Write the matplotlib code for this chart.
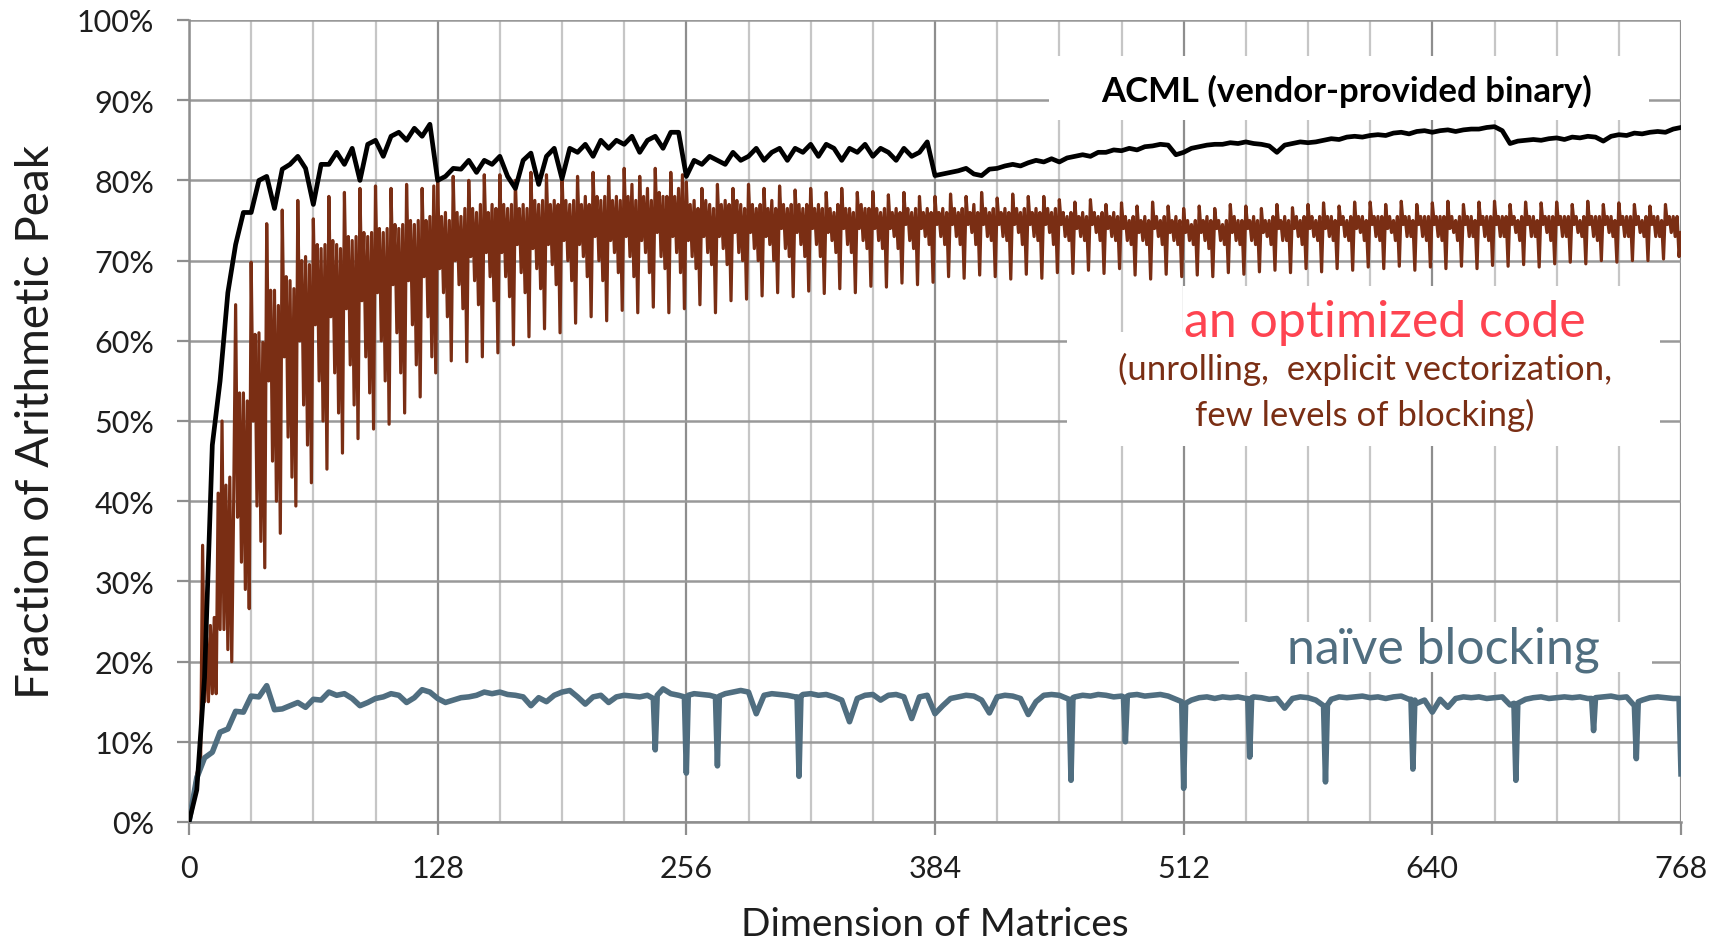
import numpy as np
import matplotlib.pyplot as plt
from matplotlib.patches import Rectangle

plt.rcParams['font.family'] = ['Lato', 'DejaVu Sans']

# ACML (vendor binary), % of peak, n = 0, 4, 8, ..., 768
acml = [
    0, 4, 18, 47, 55, 66, 72, 76,
    76, 80, 80.5, 76.5, 81.4, 82, 83, 81.5,
    77, 82, 82, 83.5, 82, 84, 80, 84.5,
    85, 83, 85.5, 86, 85, 86.5, 85.5, 87,
    80, 80.5, 81.5, 81.4, 82.5, 81, 82.5, 82,
    83, 80.5, 79, 82.5, 83.4, 79.5, 83, 84,
    80.2, 84, 83.5, 84.5, 83, 85, 84, 85,
    84.5, 85.5, 83.5, 85, 85.5, 84, 86, 86,
    80.5, 82.5, 82, 83, 82.5, 82, 83.5, 82.5,
    83, 84, 82.5, 83.5, 84, 82.5, 84, 83.5,
    84.5, 83, 84.5, 84, 82.5, 84, 83.5, 84.5,
    83, 84, 83.5, 82.5, 84, 83, 83.5, 84.8,
    80.6, 80.8, 81, 81.2, 81.5, 80.8, 80.6, 81.4,
    81.5, 81.8, 82, 81.8, 82.2, 82.5, 82.3, 82.7,
    82.3, 82.8, 83, 83.2, 83, 83.5, 83.5, 83.8,
    83.7, 84, 83.8, 84.2, 84.3, 84.5, 84.4, 83.2,
    83.5, 84, 84.2, 84.4, 84.5, 84.5, 84.7, 84.6,
    84.8, 84.6, 84.5, 84.3, 83.5, 84.4, 84.6, 84.8,
    84.7, 84.8, 85, 85.2, 85.1, 85.4, 85.5, 85.4,
    85.6, 85.7, 85.6, 85.9, 86, 85.8, 86.1, 86.2,
    86, 86.2, 86.3, 86.1, 86.3, 86.4, 86.4, 86.6,
    86.7, 86.2, 84.6, 84.9, 85, 85.1, 85, 85.2,
    85.3, 85.1, 85.4, 85.3, 85.5, 85.4, 84.9, 85.5,
    85.7, 85.6, 85.9, 85.8, 86, 86.1, 86, 86.4,
    86.6,
]

# optimized code, % of peak, n = 0, 1, 2, ..., 768 (one row = 32 sizes)
optimized = [
    0, 1.5, 3, 4.5, 6, 7, 8, 34.5, 15, 23, 15, 24.5, 16, 25.5, 16, 41,
    24, 50, 24, 42, 21.5, 43, 20, 40, 64.5, 38, 53.5, 32.4, 53.5, 29, 52.5, 26.6,
    69.8, 50, 60.8, 39.4, 61, 35, 59.8, 31.7, 74.6, 55, 66.3, 45, 66.3, 40, 64.4, 36,
    76.3, 58, 68, 48, 67.5, 43, 66.5, 39.4, 77.5, 60, 70, 52, 70.5, 47, 69.5, 42.3,
    75.2, 62, 72, 55, 71.5, 50, 72, 44, 78, 63, 72.5, 56, 72, 51, 71.5, 46,
    78.5, 64, 73, 57, 72.5, 52, 73, 47.8, 79, 65, 73.5, 58, 73, 53.5, 73.5, 49,
    79.3, 66, 74, 60, 73.5, 55, 74, 49.6, 79, 67, 74.5, 61, 74, 56, 74.5, 51,
    79.5, 67.5, 75, 62, 74.5, 57, 75, 53, 79, 68, 75, 63, 75.5, 58, 79.3, 56,
    80.2, 69, 75.5, 66, 76, 63, 75, 57.5, 80.5, 70, 76, 67, 75.5, 64, 76.5, 57.4,
    80, 70.5, 76.5, 67.5, 76, 64.5, 77, 58, 80.7, 71, 76, 68, 77, 65, 76.5, 58.5,
    80.7, 71, 77, 68, 76.5, 65.5, 77, 59.5, 80, 72, 76.5, 68.5, 77, 66, 76.5, 60.5,
    81, 71.5, 77.5, 69, 77, 66.5, 77.5, 61.5, 80.7, 72, 77, 69.5, 77.5, 67, 77, 61,
    81, 72.5, 77.5, 70, 77, 67.5, 77.5, 62.2, 80.5, 72, 77, 70.5, 78, 68, 77, 63,
    81, 73, 78, 70, 77.5, 67.5, 78, 62.5, 80.5, 72.5, 77.5, 71, 78, 68.5, 77.5, 63.8,
    81.5, 73, 78, 70.5, 79.5, 68, 77.5, 63.5, 80.5, 72.5, 78, 71, 79, 68.5, 77.5, 64.2,
    81.5, 73.5, 78.5, 70.5, 78, 69, 78, 63.5, 81, 73, 78, 71, 79, 68.5, 80.7, 64,
    79.8, 72.5, 77, 70.5, 77.5, 69, 76.5, 64.5, 79, 73, 77.5, 71, 77, 69.5, 76.5, 63.5,
    79.5, 73, 77, 71.5, 77.5, 69.5, 77, 65, 79, 73.5, 77.5, 71, 77, 70, 76.5, 65.2,
    79.5, 73.5, 77, 71.5, 76.5, 70, 77, 65.6, 79, 73, 76.5, 72, 77.5, 70, 76.5, 66,
    79.3, 74, 77, 71.5, 76.5, 70.5, 77, 65.5, 78.8, 73.5, 77, 72, 76.5, 70.5, 77, 66.2,
    79, 74, 76.5, 72, 77, 70.5, 76.5, 65.9, 78.5, 73.5, 76.5, 72.5, 76, 71, 77, 66.5,
    79, 74, 76.5, 72, 76.5, 71, 76, 66, 78.5, 74, 77, 72.5, 76.5, 71.5, 76.5, 66.8,
    78.6, 74, 76.5, 72.5, 76, 71.5, 76.5, 66.7, 78.2, 74, 76, 73, 76.5, 71.5, 76, 67.2,
    78.5, 74.5, 76.5, 72.5, 76, 71.5, 76.5, 67, 78, 74, 76, 73, 76.5, 72, 76, 67.3,
    78, 74.5, 76, 73, 76.5, 72, 76, 68, 78.3, 74.5, 76.5, 73, 76, 72, 76.5, 67.8,
    78, 74.5, 76, 73.5, 77, 72, 76, 68.2, 78.5, 74.5, 76.5, 73, 76, 72.5, 76.5, 68,
    77.8, 74.5, 76, 73, 76.5, 72.5, 76, 67.7, 78.3, 74.5, 76.5, 73.5, 76, 72, 76.5, 68.3,
    78, 74.5, 76, 73, 76.5, 72.5, 76, 67.8, 78, 74.5, 76.5, 73.5, 76, 72, 76.5, 68.5,
    77.6, 74.5, 76, 73, 75.5, 72.5, 76, 68.4, 77.3, 74, 75.5, 73, 76, 72.5, 75.5, 68.8,
    77.6, 74.5, 76, 73.5, 75.5, 72.5, 76, 68.4, 77, 74, 75.5, 73, 76, 72.5, 75.5, 69,
    77.2, 74, 75.5, 72.5, 75, 72, 75.5, 68.2, 76.8, 73.5, 75, 72.5, 75.5, 72, 75, 67.7,
    77.3, 74, 75.5, 73, 75, 72, 75.5, 68.3, 76.8, 73.5, 75, 72.5, 75.5, 72, 75, 68,
    76.5, 73.5, 75, 72.5, 74.5, 72, 75, 68.2, 76.8, 73.5, 75, 72.5, 75.5, 71.5, 75, 68,
    76.5, 74, 75, 72.5, 74.5, 72, 75, 68.5, 77, 73.5, 75.5, 72.5, 75, 72, 75, 68.3,
    76.8, 74, 75, 72.5, 75.5, 72, 75, 68.6, 76.5, 73.5, 75, 73, 75, 72, 75.5, 68.8,
    77, 74, 75, 72.5, 75.5, 72.5, 75, 68.5, 76.6, 74, 75.5, 73, 75, 72, 75.5, 69,
    77, 74, 75.5, 73, 75, 72.5, 75.5, 68.6, 77.2, 74, 75.5, 73, 75.5, 72.5, 75, 69,
    76.8, 74.5, 75.5, 73, 75, 72.5, 75.5, 68.8, 77.3, 74, 75.5, 73.5, 75.5, 72.5, 75, 69.2,
    77.3, 74.5, 75.5, 73, 75.5, 72.5, 75.5, 69, 77, 74, 75.5, 73.5, 75, 72.5, 75.5, 69.3,
    77.4, 74.5, 75.5, 73, 75.5, 73, 75, 68.8, 77, 74.5, 75.5, 73, 75.5, 72.5, 75.5, 69.2,
    77.2, 74.5, 75.5, 73, 75.5, 72.5, 75.5, 69, 77.4, 74, 75.5, 73.5, 75, 72.5, 75.5, 69.3,
    77, 74.5, 75.5, 73, 75.5, 73, 75, 69, 77.3, 74.5, 75.5, 73, 75.5, 72.5, 75.5, 69.4,
    77.4, 74.5, 75.5, 73, 75.5, 73, 75.5, 69.3, 77, 74.5, 75.5, 73.5, 75, 72.5, 75.5, 69.5,
    77.3, 74.5, 75.5, 73, 75.5, 73, 75, 69.2, 77.2, 74.5, 75.5, 73.5, 75.5, 72.5, 75.5, 69.6,
    77.3, 74.5, 75.5, 73, 75.5, 73, 75.5, 69.8, 77, 74.5, 75.5, 73.5, 75, 73, 75.5, 69.6,
    77.4, 74.5, 75.5, 73, 75.5, 72.5, 75.5, 70, 77, 74.5, 75.5, 73.5, 75.5, 73, 75, 69.8,
    77.2, 74.5, 75.5, 73, 75.5, 73, 75.5, 70, 77, 74.5, 75.5, 73.5, 75, 73, 75.5, 70,
    76.8, 74.5, 75.5, 73, 75.5, 73, 75, 70.2, 77, 74.5, 75.5, 73.5, 75.5, 73, 75.5, 70.5,
    73.5,
]

# naive blocking, % of peak, n = 0, 4, 8, ..., 768
naive = [
    0, 5.5, 8, 8.7, 11.2, 11.6, 13.8, 13.7,
    15.7, 15.6, 17, 14, 14.1, 14.5, 14.9, 14.3,
    15.3, 15.2, 16.2, 15.8, 16, 15.4, 14.5, 14.9,
    15.4, 15.6, 16, 15.8, 14.9, 15.5, 16.5, 16.2,
    15.4, 14.9, 15.2, 15.5, 15.6, 15.8, 16.2, 16,
    16.2, 15.9, 15.8, 15.6, 14.5, 15.5, 15, 15.8,
    16.2, 16.4, 15.6, 14.7, 15.6, 15.8, 14.9, 15.6,
    15.8, 15.7, 15.6, 15.8, 15.4, 16.6, 16, 15.8,
    15.6, 16, 15.9, 15.8, 15.6, 16, 16.2, 16.4,
    16.2, 13.5, 15.8, 16, 15.9, 15.8, 15.6, 15.9,
    16, 15.8, 15.9, 15.6, 15.2, 12.5, 15.4, 15.8,
    15.9, 15.2, 15.8, 15.9, 15.6, 12.9, 15.6, 15.8,
    13.5, 14.5, 15.4, 15.6, 15.8, 15.7, 15.2, 13.6,
    15.6, 15.8, 15.7, 15.4, 13.4, 15, 15.8, 15.9,
    15.8, 15.4, 15.6, 15.8, 15.7, 15.9, 15.8, 15.6,
    15.7, 15.8, 15.9, 15.7, 15.8, 15.9, 15.7, 15.3,
    14.6, 15.2, 15.5, 15.6, 15.4, 15.6, 15.5, 15.6,
    15.4, 15.6, 15.5, 15.3, 15.4, 14.2, 15.4, 15.6,
    15.5, 15.2, 14.5, 15.3, 15.6, 15.5, 15.6, 15.7,
    15.5, 15.6, 15.4, 15.6, 15.7, 15.3, 14.8, 15.2,
    13.7, 15.3, 14.3, 15.4, 15.6, 15.5, 15.6, 15.4,
    15.5, 15.6, 14.6, 14.8, 15.3, 15.5, 15.6, 15.4,
    15.5, 15.6, 15.5, 15.6, 15.4, 15.5, 15.6, 15.7,
    15.5, 15.6, 14.5, 15.2, 15.5, 15.6, 15.5, 15.4,
    15.3,
]

# sharp drops of the naive code at single sizes (with the sizes next to them)
naive_dip_n = [239, 240, 241, 255, 256, 257, 271, 272, 273, 313, 314, 315,
               453, 454, 455, 481, 482, 483, 511, 512, 513, 545, 546, 547,
               584, 585, 586, 629, 630, 631, 682, 683, 684, 722, 723, 724,
               744, 745, 746, 767, 768]
naive_dip_pct = [15.4, 9.0, 15.8, 15.6, 6.1, 15.8, 15.6, 7.0, 15.7, 15.6, 5.7, 15.7,
                 15.3, 5.2, 15.5, 15.6, 10.0, 15.7, 15.0, 4.2, 14.8, 15.4, 8.1, 15.5,
                 14.5, 5.0, 14.6, 15.3, 6.6, 15.2, 14.8, 5.2, 14.8, 15.4, 11.4, 15.5,
                 14.5, 7.9, 15.0, 15.4, 6.0]

n_step4 = np.arange(0, 769, 4)
n_step1 = np.arange(0, 769)

naive_pts = dict(zip(n_step4.tolist(), naive))
naive_pts.update(zip(naive_dip_n, naive_dip_pct))
naive_n = sorted(naive_pts)
naive_y = [naive_pts[k] for k in naive_n]

fig = plt.figure(figsize=(17.23, 9.45), dpi=100)
ax = fig.add_axes([189/1723, 1 - 823/945, 1492/1723, 802/945])

ax.plot(n_step1, optimized, color='#7a2e14', lw=2.3, zorder=3)
ax.plot(naive_n, naive_y, color='#506e80', lw=4.0, zorder=4)
ax.plot(n_step4, acml, color='black', lw=3.4, zorder=5)

ax.set_xlim(0, 768)
ax.set_ylim(0, 100)
ax.set_xticks(range(0, 769, 128))
ax.set_xticks(range(0, 769, 32), minor=True)
ax.set_yticks(range(0, 101, 10))
ax.set_yticklabels([f'{v}%' for v in range(0, 101, 10)])

ax.set_axisbelow(True)
ax.grid(which='minor', axis='x', color='#c6c6c6', lw=1.6)
ax.grid(which='major', axis='x', color='#8e8e8e', lw=1.6)
ax.grid(which='major', axis='y', color='#999999', lw=1.8)
for s in ['top', 'right']:
    ax.spines[s].set_visible(False)
for s in ['left', 'bottom']:
    ax.spines[s].set_color('#8e8e8e')
    ax.spines[s].set_linewidth(1.8)
ax.tick_params(which='major', length=9, width=1.6, color='#8e8e8e',
               labelsize=22, labelcolor='#1e1e1e')
ax.tick_params(axis='y', pad=16)
ax.tick_params(axis='x', pad=14)
ax.tick_params(which='minor', length=0)

ax.set_xlabel('Dimension of Matrices', fontsize=28, color='#1e1e1e', labelpad=17)
ax.set_ylabel('Fraction of Arithmetic Peak', fontsize=33, color='#1e1e1e', labelpad=14)

# white boxes behind the labels (hide the grid)
for x0, y0, w, h in [(442.7, 87.5, 309, 8.0), (511.6, 60.8, 227, 6.0),
                     (452, 46.9, 305, 14.2), (540.5, 18.7, 212.5, 6.2)]:
    ax.add_patch(Rectangle((x0, y0), w, h, facecolor='white', edgecolor='none', zorder=1))

ax.text(595.6, 91.2, 'ACML (vendor-provided binary)', fontsize=25, fontweight='bold',
        color='black', ha='center', va='center', zorder=6)
ax.text(615.6, 62.3, 'an optimized code', fontsize=36, color='#fe4350',
        ha='center', va='center', zorder=6)
ax.text(605.3, 56.5, '(unrolling,  explicit vectorization,', fontsize=25, color='#7a2e14',
        ha='center', va='center', zorder=6)
ax.text(605.3, 50.8, 'few levels of blocking)', fontsize=25, color='#7a2e14',
        ha='center', va='center', zorder=6)
ax.text(645.5, 21.6, 'naïve blocking', fontsize=36, color='#506e80',
        ha='center', va='center', zorder=6)

fig.savefig('out.png', dpi=100)
